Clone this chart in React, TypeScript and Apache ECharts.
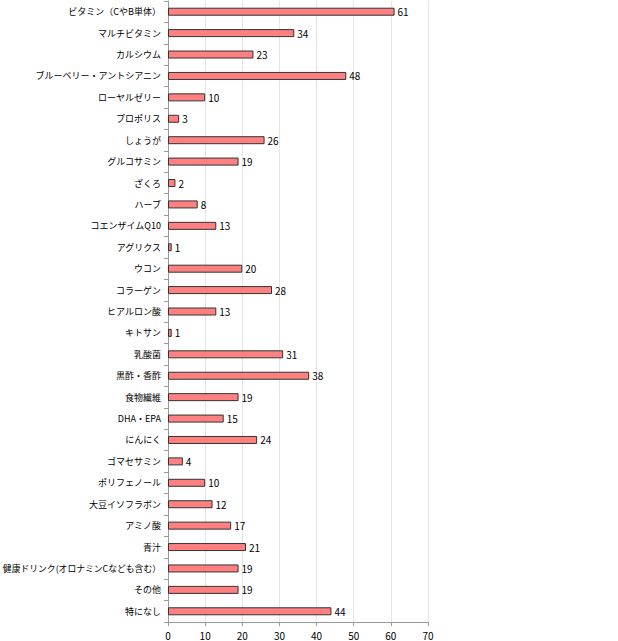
import React, { useEffect, useRef } from "react";
import * as echarts from "echarts";

const categories = [
  "ビタミン（CやB単体）",
  "マルチビタミン",
  "カルシウム",
  "ブルーベリー・アントシアニン",
  "ローヤルゼリー",
  "プロポリス",
  "しょうが",
  "グルコサミン",
  "ざくろ",
  "ハーブ",
  "コエンザイムQ10",
  "アグリクス",
  "ウコン",
  "コラーゲン",
  "ヒアルロン酸",
  "キトサン",
  "乳酸菌",
  "黒酢・香酢",
  "食物繊維",
  "DHA・EPA",
  "にんにく",
  "ゴマセサミン",
  "ポリフェノール",
  "大豆イソフラボン",
  "アミノ酸",
  "青汁",
  "健康ドリンク(オロナミンCなども含む）",
  "その他",
  "特になし",
];

const values = [61, 34, 23, 48, 10, 3, 26, 19, 2, 8, 13, 1, 20, 28, 13, 1, 31, 38, 19, 15, 24, 4, 10, 12, 17, 21, 19, 19, 44];

const xTicks = { min: 0, max: 70, interval: 10 };

const FONT = "'Noto Sans CJK JP', 'Noto Sans', sans-serif";

export default function App() {
  const ref = useRef<HTMLDivElement>(null);
  useEffect(() => {
    document.body.style.margin = "0";
    const chart = echarts.init(ref.current!, null, { renderer: "svg" });
    chart.setOption({
      animation: false,
      grid: { left: 168, right: 190, top: 1, bottom: 19, containLabel: false, outerBoundsMode: "none" },
      xAxis: {
        type: "value",
        min: xTicks.min,
        max: xTicks.max,
        interval: xTicks.interval,
        axisLine: { show: true, lineStyle: { color: "#999", width: 1 } },
        axisTick: { show: true, length: 4, lineStyle: { color: "#999" } },
        axisLabel: { color: "#000", fontSize: 10, fontFamily: FONT, margin: 8 },
        splitLine: { show: true, lineStyle: { color: "#e4e4e4", width: 1 } },
      },
      yAxis: {
        type: "category",
        data: categories,
        inverse: true,
        axisLine: { show: true, lineStyle: { color: "#999", width: 1 } },
        axisTick: { show: true, length: 4, lineStyle: { color: "#999" } },
        axisLabel: {
          color: "#000",
          fontSize: 9,
          fontFamily: FONT,
          margin: 7,
          interval: 0,
          formatter: (v: string) => (v.length > 16 ? `{s|${v}}` : v),
          rich: { s: { fontSize: 8.8, fontFamily: FONT, color: "#000" } },
        },
        splitLine: { show: false },
      },
      series: [
        {
          type: "bar",
          data: values,
          barWidth: 8,
          itemStyle: { color: "#FF8080", borderColor: "#333", borderWidth: 1 },
          label: {
            show: true,
            position: "right",
            distance: 3,
            color: "#000",
            fontSize: 10,
            fontFamily: FONT,
          },
        },
      ],
    });
    return () => chart.dispose();
  }, []);
  return <div ref={ref} style={{ width: 618, height: 641 }} />;
}
